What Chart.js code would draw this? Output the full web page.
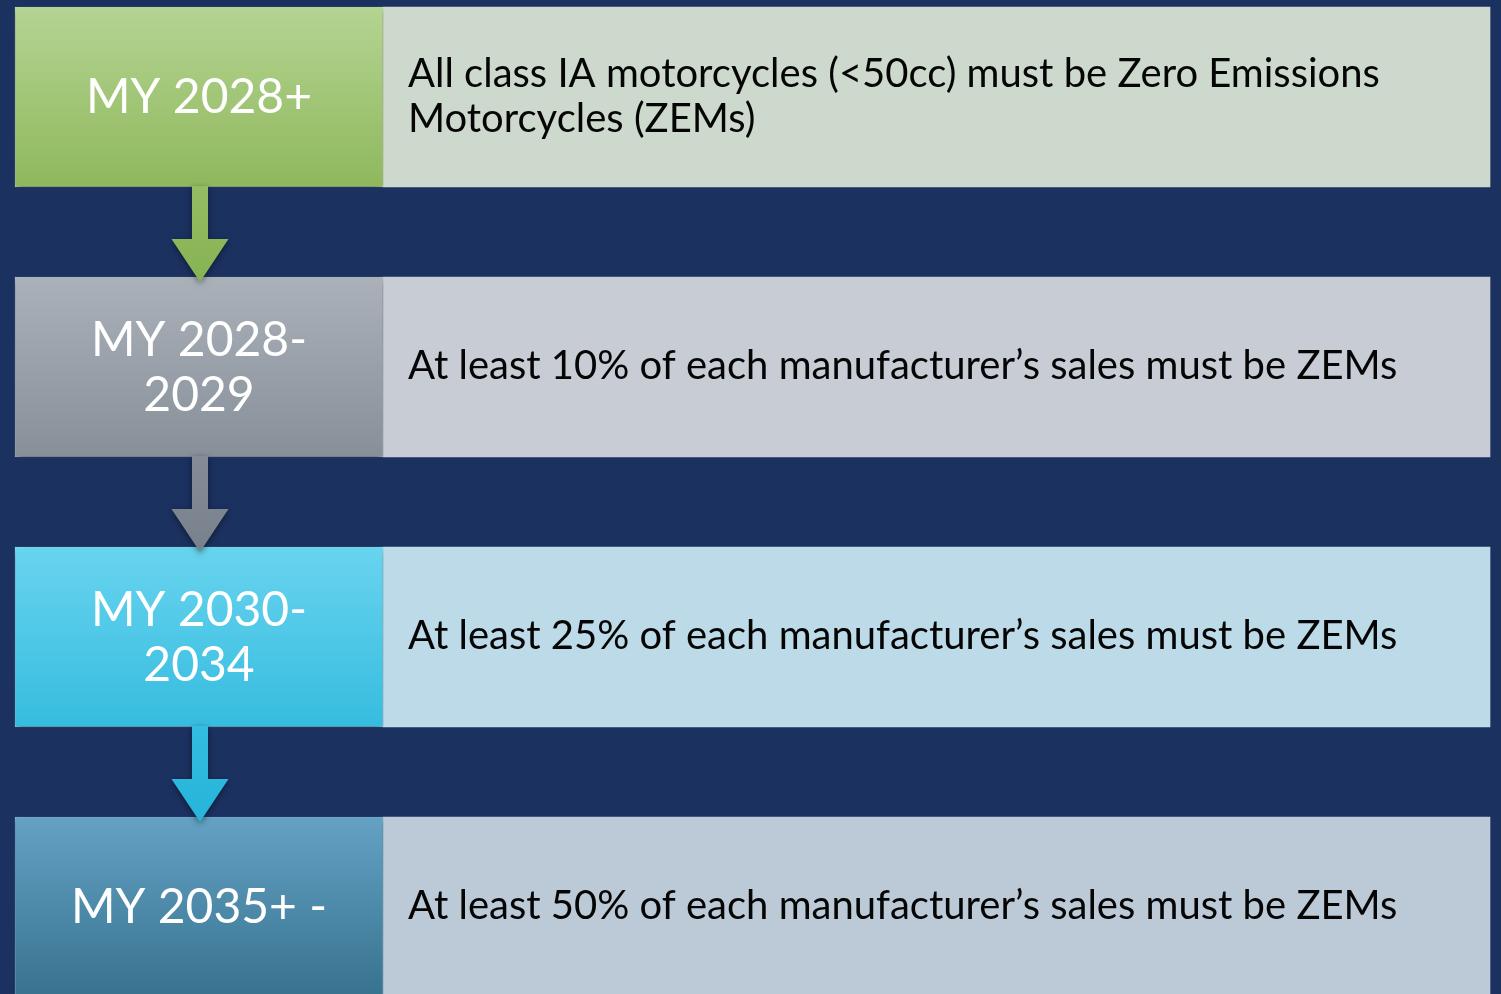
<!DOCTYPE html>
<html>
<head>
<meta charset="utf-8">
<script src="https://cdn.jsdelivr.net/npm/chart.js@4.4.1/dist/chart.umd.min.js"></script>
<style>
  html, body { margin: 0; padding: 0; background: #1b3160; overflow: hidden; }
  #wrap { position: absolute; left: 0; top: -38px; width: 1501px; height: 1080px; }
</style>
</head>
<body>
<div id="wrap"><canvas id="chart"></canvas></div>
<script>
/* ---------- data ---------- */
const rows = ['MY 2028+', 'MY 2028-2029', 'MY 2030-2034', 'MY 2035+'];

const labelLines = [
  ['MY 2028+'],
  ['MY 2028-', '2029'],
  ['MY 2030-', '2034'],
  ['MY 2035+ -']
];

const descLines = [
  ['All class IA motorcycles (<50cc) must be Zero Emissions', 'Motorcycles (ZEMs)'],
  ['At least 10% of each manufacturer’s sales must be ZEMs'],
  ['At least 25% of each manufacturer’s sales must be ZEMs'],
  ['At least 50% of each manufacturer’s sales must be ZEMs']
];

// floating bar extents (x units)
const labelSpan = [[15, 383], [15, 383], [15, 383], [15, 383]];
const descSpan  = [[383, 1490], [383, 1490], [383, 1490], [383, 1490]];

/* ---------- styles ---------- */
const BAR_H = 180;
const FONT = 'Lato, "Open Sans", sans-serif';

const labelTop    = ['#b4d492', '#aab1b9', '#68d4ef', '#64a1c4'];
const labelBottom = ['#8fb85d', '#878f99', '#36bcdf', '#37738f'];
const labelEdge   = ['#c4dea8', '#b8bec6', '#8adff3', '#7fb2cf'];
const descFill    = ['#cdd9cc', '#c8ccd5', '#bcdae7', '#bccad8'];
const arrowTop    = ['#93bd62', '#858e98', '#33bde0'];
const arrowBottom = ['#86b354', '#78818b', '#26b4d9'];

function vGrad(chart, i, top, bottom) {
  const y = chart.scales.y;
  if (!y || y.top === undefined) return top[i];
  const mid = y.getPixelForValue(i);
  const g = chart.ctx.createLinearGradient(0, mid - BAR_H / 2, 0, mid + BAR_H / 2);
  g.addColorStop(0, top[i]);
  g.addColorStop(1, bottom[i]);
  return g;
}

/* ---------- plugins ---------- */
const shadowPlugin = {
  id: 'boxShadow',
  beforeDatasetDraw(chart, args) {
    if (args.index !== 0) return;
    const ctx = chart.ctx;
    ctx.save();
    ctx.shadowColor = 'rgba(0,0,0,0.5)';
    ctx.shadowBlur = 7;
    ctx.shadowOffsetY = 3;
  },
  afterDatasetDraw(chart, args) {
    if (args.index !== 0) return;
    chart.ctx.restore();
  }
};

const overlayPlugin = {
  id: 'overlay',
  afterDatasetsDraw(chart) {
    const { ctx, scales: { x, y } } = chart;
    const cx = x.getPixelForValue((labelSpan[0][0] + labelSpan[0][1]) / 2) + 1;

    // arrows
    for (let i = 0; i < rows.length - 1; i++) {
      const yFrom = y.getPixelForValue(i) + BAR_H / 2 - 1;
      const yTip = y.getPixelForValue(i + 1) - BAR_H / 2 + 5;
      const headTop = yTip - 43;
      ctx.save();
      ctx.shadowColor = 'rgba(0,0,0,0.45)';
      ctx.shadowBlur = 6;
      ctx.shadowOffsetY = 2;
      const g = ctx.createLinearGradient(0, yFrom, 0, yTip);
      g.addColorStop(0, arrowTop[i]);
      g.addColorStop(1, arrowBottom[i]);
      ctx.fillStyle = g;
      ctx.beginPath();
      ctx.moveTo(cx - 8, yFrom);
      ctx.lineTo(cx + 8, yFrom);
      ctx.lineTo(cx + 8, headTop);
      ctx.lineTo(cx + 28.5, headTop);
      ctx.lineTo(cx, yTip);
      ctx.lineTo(cx - 28.5, headTop);
      ctx.lineTo(cx - 8, headTop);
      ctx.closePath();
      ctx.fill();
      ctx.restore();
    }

    // texts
    ctx.save();
    ctx.textBaseline = 'alphabetic';
    rows.forEach((r, i) => {
      const mid = y.getPixelForValue(i);

      ctx.fillStyle = '#ffffff';
      ctx.textAlign = 'center';
      ctx.font = '48px ' + FONT;
      const lx = x.getPixelForValue((labelSpan[i][0] + labelSpan[i][1]) / 2);
      const ln = labelLines[i];
      ln.forEach((t, k) => {
        ctx.fillText(t, lx, mid - (ln.length - 1) * 55 / 2 + k * 55 + 16);
      });

      ctx.fillStyle = '#050505';
      ctx.textAlign = 'left';
      ctx.font = '40px ' + FONT;
      const dx = x.getPixelForValue(descSpan[i][0]) + 25;
      const dn = descLines[i];
      dn.forEach((t, k) => {
        ctx.fillText(t, dx, mid - (dn.length - 1) * 45 / 2 + k * 45 + 12);
      });
    });
    ctx.restore();
  }
};

/* ---------- chart ---------- */
new Chart(document.getElementById('chart'), {
  type: 'bar',
  data: {
    labels: rows,
    datasets: [
      {
        label: 'Model year',
        data: labelSpan,
        grouped: false,
        barThickness: BAR_H,
        backgroundColor: c => vGrad(c.chart, c.dataIndex, labelTop, labelBottom),
        borderColor: c => labelEdge[c.dataIndex],
        borderWidth: 1,
        borderSkipped: false
      },
      {
        label: 'Requirement',
        data: descSpan,
        grouped: false,
        barThickness: BAR_H,
        backgroundColor: descFill,
        borderWidth: 0
      }
    ]
  },
  options: {
    indexAxis: 'y',
    responsive: true,
    maintainAspectRatio: false,
    animation: false,
    layout: { padding: 0 },
    plugins: { legend: { display: false }, tooltip: { enabled: false } },
    scales: {
      x: { type: 'linear', min: 0, max: 1501, display: false },
      y: { display: false }
    }
  },
  plugins: [shadowPlugin, overlayPlugin]
});
</script>
</body>
</html>
